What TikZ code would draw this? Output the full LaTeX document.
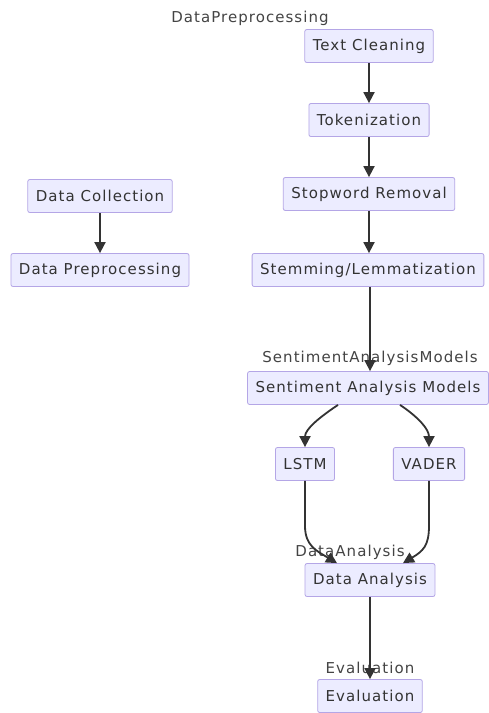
\documentclass[tikz,border=0pt]{standalone}
\usepackage{fontspec}
\setmainfont{DejaVu Sans}[LetterSpace=7]
\usetikzlibrary{arrows.meta}
\definecolor{boxfill}{HTML}{ECECFF}
\definecolor{boxline}{HTML}{B4A6E6}
\definecolor{edgecol}{HTML}{333333}
\definecolor{labcol}{HTML}{444444}
\begin{document}
\begin{tikzpicture}[x=1pt,y=-1pt,
  box/.style={draw=boxline,fill=boxfill,line width=0.8pt,rounded corners=2pt,
    minimum height=33pt,inner xsep=8pt,font=\fontsize{15}{17}\selectfont,text=edgecol},
  grp/.style={font=\fontsize{15}{17}\selectfont,text=labcol,inner sep=0pt},
  edge/.style={draw=edgecol,line width=1.8pt,-{Triangle[length=11pt,width=11pt]}}]
\useasboundingbox (0,0) rectangle (488,713);
\fill[white] (0,0) rectangle (488,713);
% group labels
\node[grp] (g1) at (250,18) {DataPreprocessing};
\node[grp] (g2) at (370,358) {SentimentAnalysisModels};
\node[grp] (g3) at (350,552) {DataAnalysis};
\node[grp] (g4) at (370,668) {Evaluation};
% nodes
\node[box] (tc) at (369,46) {Text Cleaning};
\node[box] (tok) at (369,120) {Tokenization};
\node[box] (sw) at (369,194) {Stopword Removal};
\node[box] (st) at (368,270) {Stemming/Lemmatization};
\node[box] (dc) at (100,196) {Data Collection};
\node[box] (dp) at (100,270) {Data Preprocessing};
\node[box] (sam) at (368,388) {Sentiment Analysis Models};
\node[box] (lstm) at (305,464) {LSTM};
\node[box] (vader) at (429,464) {VADER};
\node[box] (da) at (370,580) {Data Analysis};
\node[box] (ev) at (370,696) {Evaluation};
% edges
\draw[edge] (tc) -- (tok);
\draw[edge] (tok) -- (sw);
\draw[edge] (sw.south) -- (sw.south |- st.north);
\draw[edge] (dc) -- (dp);
\draw[edge] ([xshift=2pt]st.south) -- ([xshift=2pt]sam.north);
\draw[edge] ([xshift=-30pt]sam.south) .. controls +(-18,12) and +(0,-18) .. (lstm.north);
\draw[edge] ([xshift=32pt]sam.south) .. controls +(18,12) and +(0,-18) .. (vader.north);
\draw[edge] (lstm.south) -- ++(0,45) .. controls +(0,20) and +(-20,-12) .. ([xshift=-33pt]da.north);
\draw[edge] (vader.south) -- ++(0,45) .. controls +(0,20) and +(20,-12) .. ([xshift=33pt]da.north);
\draw[edge] (da) -- (ev);
\end{tikzpicture}
\end{document}
